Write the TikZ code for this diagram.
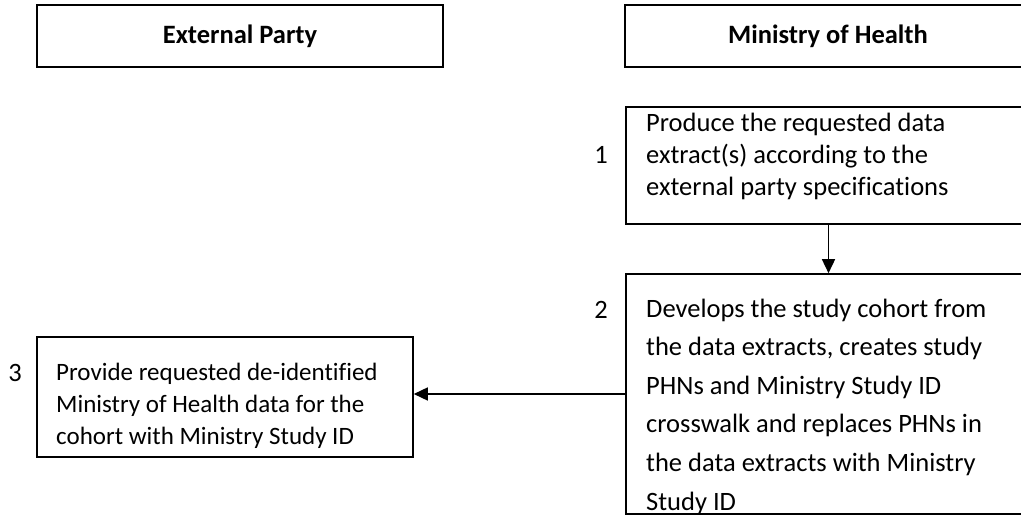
\documentclass[tikz,border=0pt]{standalone}
\usepackage{fontspec}
\setmainfont{Carlito}[Ligatures=NoCommon]
\usetikzlibrary{arrows.meta}
\begin{document}
\begin{tikzpicture}[x=1pt,y=-1pt,
  box/.style={draw,line width=1.6pt,inner sep=0pt,rectangle},
  head/.style={box,minimum width=406pt,minimum height=62pt,font=\fontsize{26.5}{30}\selectfont\bfseries},
  body/.style={anchor=north west,align=left,inner sep=0pt},
  num/.style={inner sep=0pt,font=\fontsize{26.5}{30}\selectfont},
  arr/.style={line width=1.6pt,-{Triangle[width=13pt,length=14pt]}}]
\useasboundingbox (0,0) rectangle (1021,516);

% lane headers
\node[head] (hext) at (240,36) {External Party};
\node[head] (hmoh) at (828,36) {Ministry of Health};

% process boxes
\node[box,minimum width=405pt,minimum height=117pt] (b1) at (828.5,165.5) {};
\node[box,minimum width=405pt,minimum height=240pt] (b2) at (828.5,394) {};
\node[box,minimum width=376pt,minimum height=120pt] (b3) at (225,397) {};

% box texts
\node[body,font=\fontsize{26.5}{32.3}\selectfont] (t1) at (646,112.5)
  {Produce the requested data\\extract(s) according to the\\external party specifications};
\node[body,font=\fontsize{26.5}{38.6}\selectfont] (t2) at (646,298.5)
  {Develops the study cohort from\\the data extracts, creates study\\PHNs and Ministry Study ID\\crosswalk and replaces PHNs in\\the data extracts with Ministry\\Study ID};
\node[body,font=\fontsize{25}{32}\selectfont] (t3) at (56,362.5)
  {Provide requested de-identified\\Ministry of Health data for the\\cohort with Ministry Study ID};

% step numbers
\node[num] (n1) at (601,155) {1};
\node[num] (n2) at (601,310) {2};
\node[num] (n3) at (15,373) {3};

% flow
\draw[arr] (b1.south) -- (b2.north);
\draw[arr] (b2.west) -- (b2.west -| b3.east);
\end{tikzpicture}
\end{document}
